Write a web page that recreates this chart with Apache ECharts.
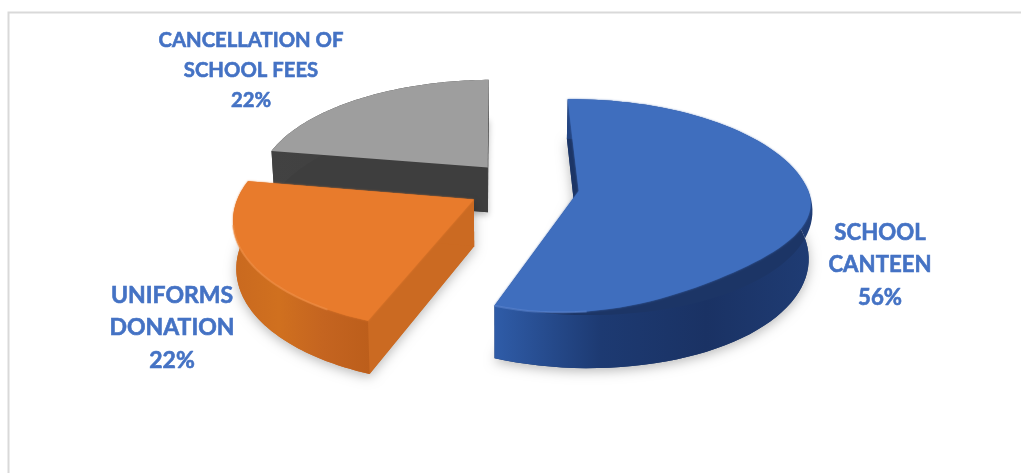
<!DOCTYPE html>
<html><head><meta charset="utf-8">
<style>html,body{margin:0;padding:0;background:#fff}#chart{width:1021px;height:473px}</style>
<script src="https://cdn.jsdelivr.net/npm/echarts@6/dist/echarts.min.js"></script>
</head><body><div id="chart"></div>
<script>
// Pie slices, clockwise from the back of the disc.
const categories = ['SCHOOL\nCANTEEN', 'UNIFORMS\nDONATION', 'CANCELLATION OF\nSCHOOL FEES'];
const shares = [56, 22, 22];

const topColors = ['#3f6ebe', '#e87b2c', '#9e9e9e'];
const edgeColors = ['#5f88d2', '#f29550', '#a8a8a8'];
const wallStops = [
  ['#2f5ca8', '#1d3a72', '#1a3264', '#1f3c74'],
  ['#c9691f', '#d0701f', '#c46420', '#bc5e1b'],
  ['#424242', '#404040', '#3c3c3c', '#404040']
];
const sideWallColors = ['#1c3566', '#cb6a22', '#3e3e3e'];
const sliceRadius = [0.975, 1, 1];
const highlightFrom = [0.9, 0.12, 1];   // portion of the rim that carries the light edge
const labelCentres = [[880, 265], [172, 328], [251, 70]];
const labelSizes = [22.2, 23, 20.3];
const labelLeading = [32.5, 32.5, 30];

// Plane-to-screen homography of the tilted disc (unit radius).
const cam = { x0: 523.2, ax: 233, bx: -76.2, y0: 186.5, ay: -1.9, by: 78, h: -0.154 };
const explode = 0.24;       // slice offset along its bisector
const thickness = 46;       // extrusion height in pixels at the disc centre
const nadirX = 500;         // verticals lean towards this x
const lean = 0.012;
const rimInset = 0.1;       // softened bevel on the front-right of the rim

const total = shares.reduce((a, b) => a + b, 0);
const rad = d => d * Math.PI / 180;

function project(U, V) {
  const W = 1 + cam.h * V;
  return [(cam.x0 + cam.ax * U + cam.bx * V) / W, (cam.y0 + cam.ay * U + cam.by * V) / W];
}
function lower(U, V) {
  const p = project(U, V);
  return [p[0] + (nadirX - p[0]) * lean, p[1] + thickness * (1 + 0.15 * V)];
}
function bevel(deg) {
  if (deg <= 90 || deg >= 200) return 0;
  const s = Math.sin(rad((deg - 90) * 180 / 110));
  return rimInset * s * s;
}

function renderSlice(params, api) {
  const i = params.dataIndex;
  let start = 0;
  for (let k = 0; k < i; k++) start += shares[k] / total * 360;
  const end = start + api.value(0) / total * 360;
  const mid = rad((start + end) / 2);
  const ou = explode * Math.sin(mid), ov = -explode * Math.cos(mid);
  const R = sliceRadius[i];
  const steps = 80;
  const topRim = [], outerTop = [], outerLow = [];
  for (let t = 0; t <= steps; t++) {
    const d = start + (end - start) * t / steps;
    const su = R * Math.sin(rad(d)), cv = -R * Math.cos(rad(d));
    const r = 1 - bevel(d);
    outerTop.push(project(ou + su, ov + cv));
    outerLow.push(lower(ou + su, ov + cv));
    topRim.push(project(ou + r * su, ov + r * cv));
  }
  const apex = project(ou, ov), apexLow = lower(ou, ov);
  const base = (2 - i) * 10;
  const children = [];
  // Soft floor shadow carried by the underside outline.
  children.push({ type: 'polygon', z2: base, shape: { points: [apexLow, ...outerLow, apex] },
    style: { fill: sideWallColors[i], shadowBlur: i === 2 ? 6 : 12, shadowOffsetY: 3, shadowColor: 'rgba(0,0,0,0.28)' } });
  children.push({ type: 'polygon', z2: base + 1, shape: { points: [apex, outerTop[0], outerLow[0], apexLow] },
    style: { fill: sideWallColors[i] } });
  children.push({ type: 'polygon', z2: base + 1, shape: { points: [apex, outerTop[steps], outerLow[steps], apexLow] },
    style: { fill: sideWallColors[i] } });
  const stops = wallStops[i];
  children.push({ type: 'polygon', z2: base + 2, shape: { points: [...outerTop, ...outerLow.slice().reverse()] },
    style: { fill: { type: 'linear', x: 0, y: 0, x2: 1, y2: 0, colorStops: stops.map((c, k) => ({ offset: k / (stops.length - 1), color: c })) } } });
  children.push({ type: 'polygon', z2: base + 3, shape: { points: [apex, ...topRim] },
    style: { fill: topColors[i], shadowBlur: i === 2 ? 0 : 2, shadowColor: topColors[i] } });
  if (i !== 2) {
    children.push({ type: 'polyline', z2: base + 4, shape: { points: topRim.slice(Math.round(highlightFrom[i] * steps), i === 1 ? Math.round(steps * 0.72) : steps + 1).concat([]) },
      style: { stroke: edgeColors[i], lineWidth: 2, opacity: 0.5, fill: null } });
  }
  children.push({ type: 'text', z2: 100, style: {
    x: labelCentres[i][0], y: labelCentres[i][1],
    text: categories[i] + '\n' + api.value(0) + '%',
    font: 'bold ' + labelSizes[i] + 'px Lato', lineHeight: labelLeading[i],
    fill: '#4472c4', stroke: '#4472c4', lineWidth: 0.6, align: 'center', verticalAlign: 'middle' } });
  return { type: 'group', children };
}

const chart = echarts.init(document.getElementById('chart'));
chart.setOption({
  animation: false,
  backgroundColor: '#ffffff',
  graphic: [{ type: 'rect', silent: true, shape: { x: 8.5, y: 12.5, width: 1100, height: 600 },
    style: { fill: null, stroke: '#d9d9d9', lineWidth: 2 } }],
  series: [{ type: 'custom', coordinateSystem: 'none', renderItem: renderSlice, data: shares.map(v => [v]) }]
});
</script></body></html>
